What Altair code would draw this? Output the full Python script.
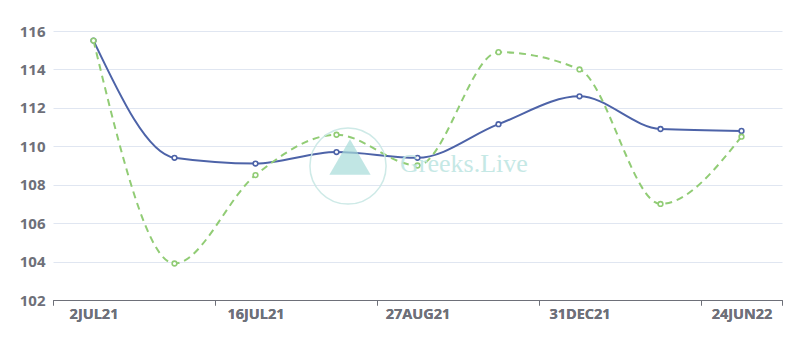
import altair as alt
import pandas as pd

categories = ["2JUL21", "9JUL21", "16JUL21", "30JUL21", "27AUG21", "24SEP21", "31DEC21", "25MAR22", "24JUN22"]
series_a = [115.5, 109.4, 109.1, 109.7, 109.4, 111.15, 112.6, 110.9, 110.8]
series_b = [115.5, 103.9, 108.5, 110.6, 109.0, 114.9, 114.0, 107.0, 110.5]
y_ticks = [102, 104, 106, 108, 110, 112, 114, 116]
shown_labels = ["2JUL21", "16JUL21", "27AUG21", "31DEC21", "24JUN22"]

idx = list(range(len(categories)))
df_a = pd.DataFrame({"i": idx, "cat": categories, "v": series_a})
df_b = pd.DataFrame({"i": idx, "cat": categories, "v": series_b})

label_idx = [categories.index(c) for c in shown_labels]
tick_pos = [i - 0.5 for i in label_idx] + [len(categories) - 0.5]
label_map = "{" + ",".join(f"'{i}':'{c}'" for i, c in enumerate(categories)) + "}"

FONT = "Open Sans"
GRAY = "#6e7079"
BLUE = "#4d63a8"
GREEN = "#91cc75"

xscale = alt.Scale(domain=[-0.5, len(categories) - 0.5], nice=False, zero=False)
yscale = alt.Scale(domain=[102, 116], nice=False, zero=False)

y_axis = alt.Axis(values=y_ticks, title=None, domain=False, ticks=False, grid=True,
                  gridColor="#e0e6f1", labelColor=GRAY, labelFont=FONT, labelFontSize=15,
                  labelFontWeight="bold", labelPadding=8)

tick_axis = alt.Axis(values=tick_pos, labels=False, ticks=True, tickSize=5,
                     tickColor=GRAY, domain=True, domainColor=GRAY, grid=False, title=None,
                     orient="bottom")
label_axis = alt.Axis(values=label_idx, labels=True, ticks=False, domain=False,
                      grid=False, title=None, orient="bottom", labelColor=GRAY, labelFont=FONT,
                      labelFontSize=14.5, labelFontWeight="bold", labelPadding=7, labelAngle=0,
                      labelExpr=f"{label_map}[''+datum.value]", labelFlush=False,
                      labelOverlap=False)

X = lambda ax: alt.X("i:Q", scale=xscale, axis=ax)
Y = alt.Y("v:Q", scale=yscale, axis=y_axis)

line_a = alt.Chart(df_a).mark_line(color=BLUE, strokeWidth=2, interpolate="monotone").encode(
    x=X(tick_axis), y=Y)
pts_a = alt.Chart(df_a).mark_point(shape="circle", filled=True, fill="white", stroke=BLUE,
                                    strokeWidth=1.6, size=22, opacity=1).encode(
    x=X(label_axis), y=Y)
line_b = alt.Chart(df_b).mark_line(color=GREEN, strokeWidth=2, strokeDash=[7, 5],
                                   interpolate="monotone").encode(x=X(tick_axis), y=Y)
pts_b = alt.Chart(df_b).mark_point(shape="circle", filled=True, fill="white", stroke=GREEN,
                                    strokeWidth=1.6, size=22, opacity=1).encode(
    x=X(label_axis), y=Y)

# watermark
wm = pd.DataFrame({"t": ["Greeks.Live"]})
wm_circle = alt.Chart(wm).mark_point(shape="circle", filled=False, stroke="#c9e8e5",
                                     strokeWidth=1.5, size=5800, opacity=0.9).encode(
    x=alt.value(295), y=alt.value(135))
wm_tri = alt.Chart(wm).mark_point(shape="triangle-up", filled=True, fill="#a6dcd8",
                                  size=1700, opacity=0.7).encode(
    x=alt.value(297), y=alt.value(126))
wm_text = alt.Chart(wm).mark_text(font="Liberation Serif", fontSize=26, color="#bfe6e3",
                                  align="left", baseline="middle", opacity=0.9).encode(
    text="t:N", x=alt.value(347), y=alt.value(133))

chart = alt.layer(line_a, pts_a, line_b, pts_b, wm_circle, wm_tri, wm_text).resolve_axis(
    x="independent").properties(
    width=729, height=269,
    autosize=alt.AutoSizeParams(type="none"),
    padding={"left": 53, "top": 31, "right": 17, "bottom": 39},
    background="white",
).configure_view(stroke=None)

chart.save("out.html", embed_options={"renderer": "svg", "actions": False})
